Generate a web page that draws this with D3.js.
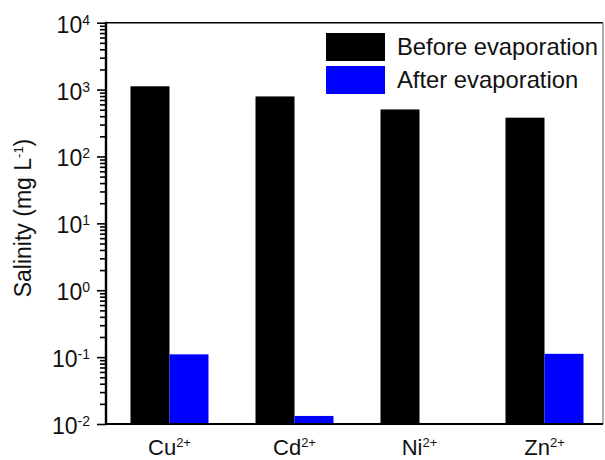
<!DOCTYPE html>
<html>
<head>
<meta charset="utf-8">
<script src="https://cdn.jsdelivr.net/npm/d3@7"></script>
<style>
  html, body { margin: 0; padding: 0; background: #fff; }
  svg { display: block; font-family: Arial, "Liberation Sans", sans-serif; }
</style>
</head>
<body>
<svg id="chart" width="605" height="460"></svg>
<script>
// Metal ions and their salinity (mg/L) before and after evaporation
const categories = ["Cu", "Cd", "Ni", "Zn"];
const chargeLabel = "2+";
const beforeValues = [1120, 790, 505, 380];
const afterValues = [0.11, 0.0132, null, 0.112];
const seriesNames = ["Before evaporation", "After evaporation"];
const seriesColors = ["#000000", "#0000ff"];
const yTickExponents = [-2, -1, 0, 1, 2, 3, 4];

const svg = d3.select("#chart");
const plotLeft = 106, plotRight = 603, plotTop = 22.7, plotBottom = 424;

const y = d3.scaleLog().domain([1e-2, 1e4]).range([plotBottom, plotTop]);
const x = d3.scaleBand().domain(categories).range([107, 607]);
const sub = d3.scaleBand().domain([0, 1]).range([0, 78]);

// bars
const rows = categories.map((c, i) => ({ c, v: [beforeValues[i], afterValues[i]] }));
const groups = svg.append("g").selectAll("g").data(rows).join("g")
  .attr("transform", d => `translate(${x(d.c) + x.bandwidth() / 2 - 39},0)`);
groups.selectAll("rect")
  .data(d => d.v.map((v, k) => ({ v, k })).filter(e => e.v != null))
  .join("rect")
  .attr("x", e => sub(e.k))
  .attr("width", sub.bandwidth())
  .attr("y", e => y(e.v))
  .attr("height", e => plotBottom - y(e.v))
  .attr("fill", e => seriesColors[e.k]);

// frame: top and right edges
svg.append("line").attr("x1", plotLeft).attr("x2", plotRight).attr("y1", plotTop).attr("y2", plotTop)
  .attr("stroke", "#000").attr("stroke-width", 1.6);
svg.append("line").attr("x1", plotRight).attr("x2", plotRight).attr("y1", plotTop).attr("y2", plotBottom)
  .attr("stroke", "#777").attr("stroke-width", 1.2);

// y axis with major and minor ticks (outward)
const minor = [];
for (let e = -2; e < 4; e++) for (let m = 2; m <= 9; m++) minor.push(m * Math.pow(10, e));
const yAxisMinor = d3.axisLeft(y).tickValues(minor).tickSize(6).tickFormat("");
const yAxisMajor = d3.axisLeft(y).tickValues(yTickExponents.map(e => Math.pow(10, e))).tickSize(9).tickFormat("");
const ga = svg.append("g").attr("transform", `translate(${plotLeft},0)`);
ga.append("g").call(yAxisMinor);
ga.append("g").call(yAxisMajor);
ga.selectAll(".domain").remove();
ga.selectAll("line").attr("stroke", "#000").attr("stroke-width", 1.6);
svg.append("line").attr("x1", plotLeft).attr("x2", plotLeft).attr("y1", plotTop - 1).attr("y2", plotBottom + 1)
  .attr("stroke", "#000").attr("stroke-width", 2.4);

// y tick labels 10^n
const yl = svg.append("g").selectAll("text").data(yTickExponents).join("text")
  .attr("x", 90).attr("y", e => y(Math.pow(10, e)) + 10)
  .attr("text-anchor", "end").attr("font-size", 23).attr("fill", "#111");
yl.append("tspan").text("10");
yl.append("tspan").attr("font-size", 14).attr("dy", -8).text(e => String(e));

// x axis line
svg.append("line").attr("x1", plotLeft - 1).attr("x2", plotRight).attr("y1", plotBottom).attr("y2", plotBottom)
  .attr("stroke", "#000").attr("stroke-width", 2.2);

// category labels
const xl = svg.append("g").selectAll("text").data(categories).join("text")
  .attr("x", c => x(c) + x.bandwidth() / 2)
  .attr("y", 455)
  .attr("text-anchor", "middle").attr("font-size", 22).attr("fill", "#111");
xl.append("tspan").text(c => c);
xl.append("tspan").attr("font-size", 13).attr("dy", -8).text(chargeLabel);

// y axis title
const yt = svg.append("text")
  .attr("transform", `translate(31,218) rotate(-90)`)
  .attr("text-anchor", "middle").attr("font-size", 23).attr("fill", "#111");
yt.append("tspan").text("Salinity (mg L");
yt.append("tspan").attr("font-size", 13).attr("dy", -8).text("-1");
yt.append("tspan").attr("dy", 8).text(")");

// legend
const lg = svg.append("g").selectAll("g").data(seriesNames).join("g")
  .attr("transform", (d, i) => `translate(326,${33 + i * 33})`);
lg.append("rect").attr("width", 59).attr("height", 28).attr("fill", (d, i) => seriesColors[i]);
lg.append("text").attr("x", 71).attr("y", 22).attr("font-size", 23.8).attr("fill", "#111").text(d => d);
</script>
</body>
</html>
